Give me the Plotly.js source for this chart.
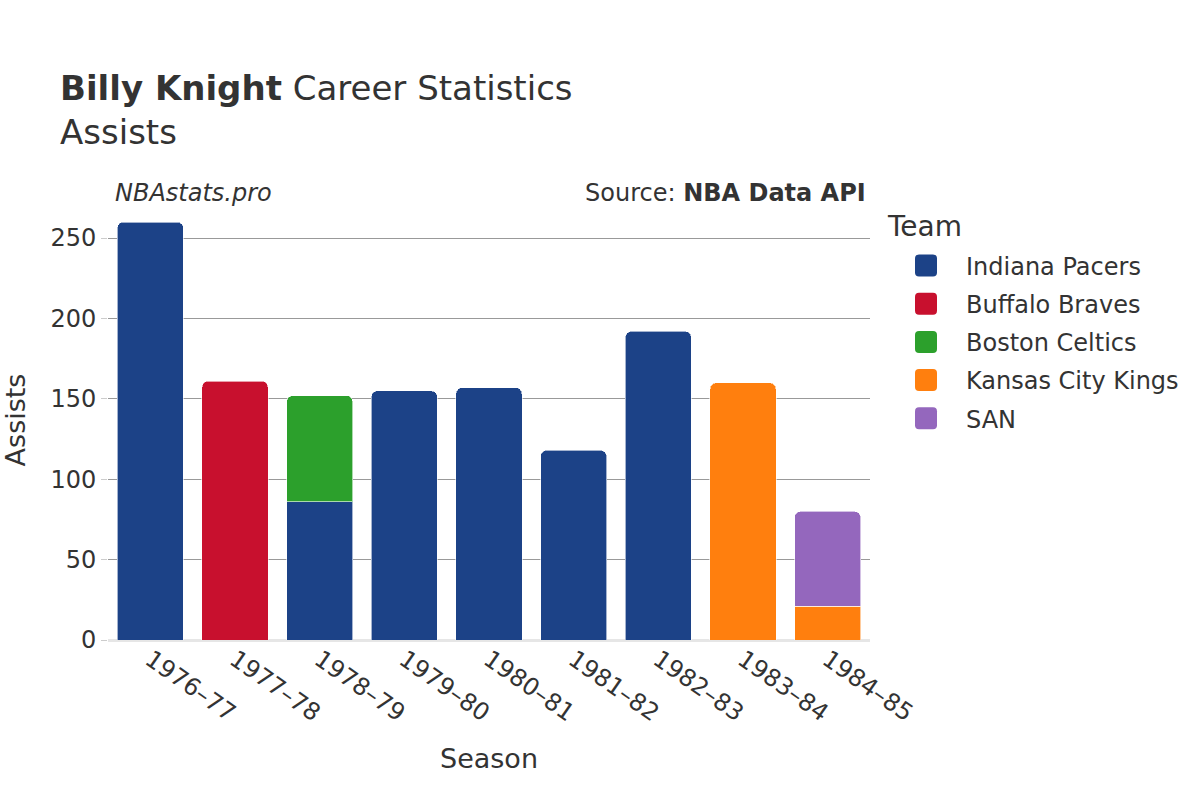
<!DOCTYPE html>
<html>
<head>
<meta charset="utf-8">
<script src="https://cdn.plot.ly/plotly-3.0.1.min.js"></script>
<style>html,body{margin:0;padding:0;background:#fff;}#chart{width:1200px;height:800px;}</style>
</head>
<body>
<div id="chart"></div>
<script>
const seasons = ["1976–77","1977–78","1978–79","1979–80","1980–81","1981–82","1982–83","1983–84","1984–85"];
const teams = ["Indiana Pacers","Buffalo Braves","Boston Celtics","Kansas City Kings","SAN"];
const colors = ["#1c4287","#c8102e","#2ca02c","#ff7f0e","#9467bd"];
const indianaPacers  = [260, null, 86, 155, 157, 118, 192, null, null];
const buffaloBraves  = [null, 161, null, null, null, null, null, null, null];
const bostonCeltics  = [null, null, 66, null, null, null, null, null, null];
const kansasCityKings= [null, null, null, null, null, null, null, 160, 21];
const san            = [null, null, null, null, null, null, null, null, 59];
const seriesValues = [indianaPacers, buffaloBraves, bostonCeltics, kansasCityKings, san];

const traces = teams.map((t, i) => ({
  type: 'bar',
  name: t,
  legendgroup: t,
  x: seasons,
  y: seriesValues[i],
  marker: {color: colors[i], line: {color: 'rgba(255,255,255,0.6)', width: 1}},
  hovertemplate: '%{x}: %{y}<extra>' + t + '</extra>'
}));

const font = {family: 'DejaVu Sans, sans-serif', color: '#333'};
const layout = {
  width: 1200, height: 800,
  barmode: 'stack',
  bargap: 0.22,
  barcornerradius: 6,
  paper_bgcolor: '#fff', plot_bgcolor: '#fff',
  font: font,
  margin: {l: 108, r: 330, t: 200, b: 160},
  title: {
    text: '<b>Billy Knight</b> Career Statistics<br>Assists',
    x: 0.05, xanchor: 'left', xref: 'container',
    y: 0.875, yanchor: 'top', yref: 'container',
    font: {size: 34, family: 'DejaVu Sans, sans-serif', color: '#333'}
  },
  xaxis: {
    type: 'category',
    tickangle: 35,
    tickfont: {size: 24},
    title: {text: 'Season', font: {size: 27}, standoff: 22},
    showgrid: false,
    ticks: '',
    zeroline: false
  },
  yaxis: {
    title: {text: 'Assists', font: {size: 27}, standoff: 18},
    tickfont: {size: 24},
    showgrid: true, gridcolor: '#999', gridwidth: 1,
    zeroline: true, zerolinecolor: '#e6e6e6', zerolinewidth: 3,
    ticks: 'outside', ticklen: 6, tickcolor: '#ccc',
    dtick: 50,
    rangemode: 'tozero'
  },
  legend: {
    title: {text: 'Team', font: {size: 28}},
    font: {size: 24},
    traceorder: 'grouped',
    tracegroupgap: 4,
    x: 1.021, xanchor: 'left', y: 1.0, yanchor: 'top',
    itemwidth: 70
  },
  annotations: [
    {text: '<i>NBAstats.pro</i>', xref: 'paper', yref: 'paper', x: 0.006, y: 1.01, xanchor: 'left', yanchor: 'bottom', yshift: -13, showarrow: false, font: {size: 24}},
    {text: 'Source: <b>NBA Data API</b>', xref: 'paper', yref: 'paper', x: 0.998, y: 1.01, xanchor: 'right', yanchor: 'bottom', yshift: -13, showarrow: false, font: {size: 24}}
  ]
};

Plotly.newPlot('chart', traces, layout, {displayModeBar: false, staticPlot: true}).then(gd => {
  // enlarge legend swatches to rounded squares
  gd.querySelectorAll('.legend .legendpoints path').forEach(p => {
    p.setAttribute('d', 'M-7,-11H7A4,4 0 0 1 11,-7V7A4,4 0 0 1 7,11H-7A4,4 0 0 1 -11,7V-7A4,4 0 0 1 -7,-11Z');
    p.style.strokeWidth = '0px';
  });
  // a little more space between the legend title and its items
  gd.querySelectorAll('.legend .groups').forEach(g => {
    const tr = g.getAttribute('transform') || '';
    g.setAttribute('transform', tr + ' translate(0,7)');
  });
  gd.querySelectorAll('.legend clipPath rect, .legend rect.bg').forEach(r => {
    const h = parseFloat(r.getAttribute('height') || '0');
    if (h) r.setAttribute('height', h + 12);
  });
  const clipRects = document.querySelectorAll('defs clipPath[id^="legend"] rect');
  clipRects.forEach(r => {
    const h = parseFloat(r.getAttribute('height') || '0');
    if (h) r.setAttribute('height', h + 12);
  });
});
</script>
</body>
</html>
